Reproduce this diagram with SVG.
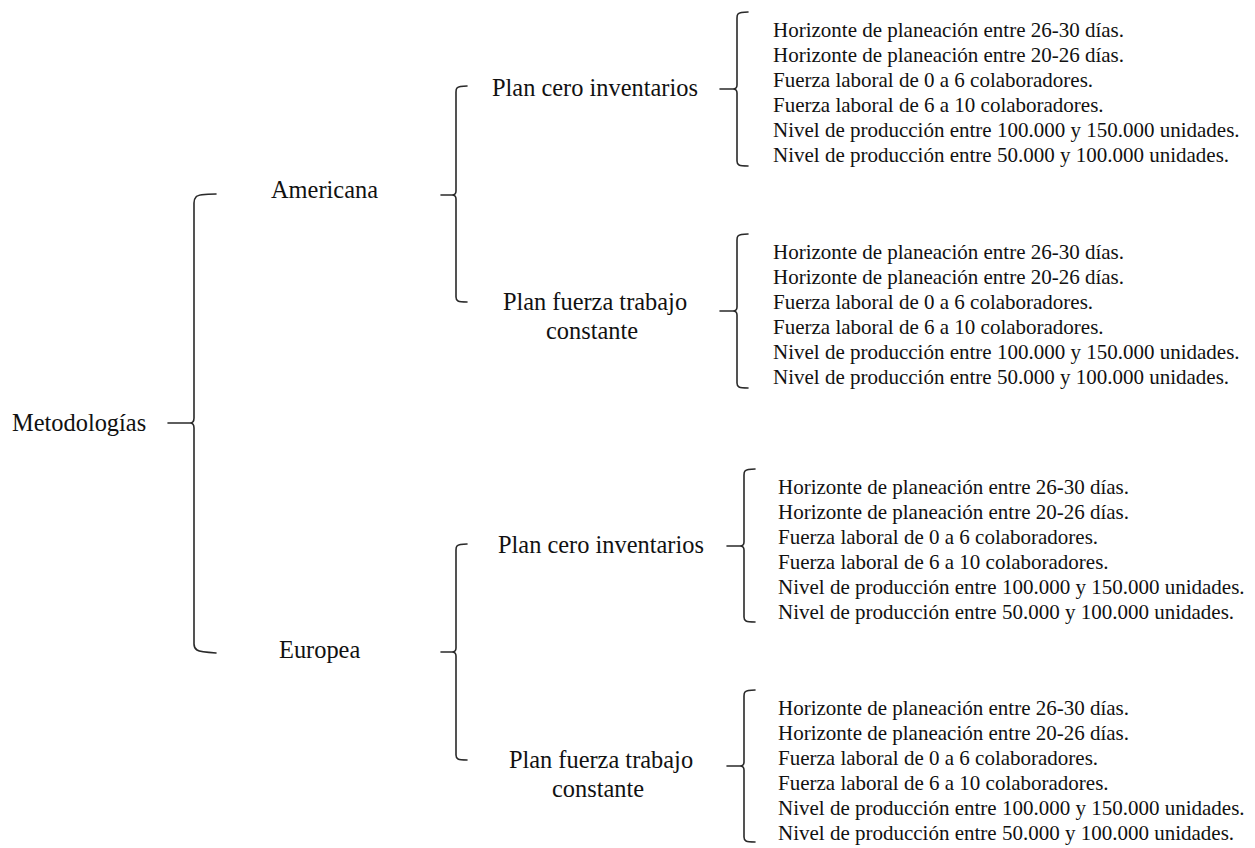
<svg xmlns="http://www.w3.org/2000/svg" width="1255" height="848" viewBox="0 0 1255 848">
<style>
.lbl{font-family:"Liberation Serif","Times New Roman",serif;font-size:24.4px;fill:#111}
.itm{font-family:"Liberation Serif","Times New Roman",serif;font-size:21px;fill:#111}
.br{fill:none;stroke:#2a2a2a;stroke-width:1.6;stroke-linecap:round;stroke-linejoin:round}
</style>
<rect width="1255" height="848" fill="#fff"/>
<g id="connectors">
<!-- main brace -->
<path class="br" d="M216,194 Q198,194 196,197 Q194,199 194,203 L194,418 Q194,423 190,423 L168,423 M190,423 Q194,423 194,428 L194,644 Q194,648 197,650 Q200,652 216,653"/>
<!-- Americana brace -->
<path class="br" d="M467,86 Q459,86 457,88 Q456,89 456,92 L456,191 Q456,195 452,195 L441,195 M452,195 Q456,195 456,199 L456,297 Q456,300 458,301 Q460,302 467,302"/>
<!-- Europea brace -->
<path class="br" d="M467,544 Q459,544 457,546 Q456,547 456,550 L456,648 Q456,652 452,652 L441,652 M452,652 Q456,652 456,656 L456,755 Q456,758 458,759 Q460,760 467,760"/>
<!-- list braces -->
<path class="br" d="M748,12 Q740,12 738,14 Q737,15 737,18 L737,85 Q737,89 733,89 L720,89 M733,89 Q737,89 737,93 L737,161 Q737,164 739,165 Q741,166 748,166"/>
<path class="br" d="M748,234 Q740,234 738,236 Q737,237 737,240 L737,307 Q737,311 733,311 L720,311 M733,311 Q737,311 737,315 L737,383 Q737,386 739,387 Q741,388 748,388"/>
<path class="br" d="M755,469 Q747,469 745,471 Q744,472 744,475 L744,542 Q744,546 740,546 L727,546 M740,546 Q744,546 744,550 L744,617 Q744,620 746,621 Q748,622 755,622"/>
<path class="br" d="M755,690 Q747,690 745,692 Q744,693 744,696 L744,762 Q744,766 740,766 L727,766 M740,766 Q744,766 744,770 L744,837 Q744,840 746,841 Q748,842 755,842"/>
</g>
<g id="n-metodologias"><text class="lbl" x="12" y="431">Metodologías</text></g>
<g id="n-americana"><text class="lbl" x="271" y="198">Americana</text></g>
<g id="n-europea"><text class="lbl" x="279" y="658">Europea</text></g>
<g id="n-am-cero"><text class="lbl" x="492" y="96">Plan cero inventarios</text></g>
<g id="n-am-fuerza"><text class="lbl" text-anchor="middle" x="595" y="310">Plan fuerza trabajo</text><text class="lbl" text-anchor="middle" x="592" y="339">constante</text></g>
<g id="n-eu-cero"><text class="lbl" x="498" y="553">Plan cero inventarios</text></g>
<g id="n-eu-fuerza"><text class="lbl" text-anchor="middle" x="601" y="768">Plan fuerza trabajo</text><text class="lbl" text-anchor="middle" x="598" y="797">constante</text></g>
<g id="n-list1" class="itm">
<text x="773" y="37">Horizonte de planeación entre 26-30 días.</text>
<text x="773" y="62">Horizonte de planeación entre 20-26 días.</text>
<text x="773" y="87">Fuerza laboral de 0 a 6 colaboradores.</text>
<text x="773" y="112">Fuerza laboral de 6 a 10 colaboradores.</text>
<text x="773" y="137">Nivel de producción entre 100.000 y 150.000 unidades.</text>
<text x="773" y="162">Nivel de producción entre 50.000 y 100.000 unidades.</text>
</g>
<g id="n-list2" class="itm">
<text x="773" y="259">Horizonte de planeación entre 26-30 días.</text>
<text x="773" y="284">Horizonte de planeación entre 20-26 días.</text>
<text x="773" y="309">Fuerza laboral de 0 a 6 colaboradores.</text>
<text x="773" y="334">Fuerza laboral de 6 a 10 colaboradores.</text>
<text x="773" y="359">Nivel de producción entre 100.000 y 150.000 unidades.</text>
<text x="773" y="384">Nivel de producción entre 50.000 y 100.000 unidades.</text>
</g>
<g id="n-list3" class="itm">
<text x="778" y="494">Horizonte de planeación entre 26-30 días.</text>
<text x="778" y="519">Horizonte de planeación entre 20-26 días.</text>
<text x="778" y="544">Fuerza laboral de 0 a 6 colaboradores.</text>
<text x="778" y="569">Fuerza laboral de 6 a 10 colaboradores.</text>
<text x="778" y="594">Nivel de producción entre 100.000 y 150.000 unidades.</text>
<text x="778" y="619">Nivel de producción entre 50.000 y 100.000 unidades.</text>
</g>
<g id="n-list4" class="itm">
<text x="778" y="715">Horizonte de planeación entre 26-30 días.</text>
<text x="778" y="740">Horizonte de planeación entre 20-26 días.</text>
<text x="778" y="765">Fuerza laboral de 0 a 6 colaboradores.</text>
<text x="778" y="790">Fuerza laboral de 6 a 10 colaboradores.</text>
<text x="778" y="815">Nivel de producción entre 100.000 y 150.000 unidades.</text>
<text x="778" y="840">Nivel de producción entre 50.000 y 100.000 unidades.</text>
</g>
</svg>
